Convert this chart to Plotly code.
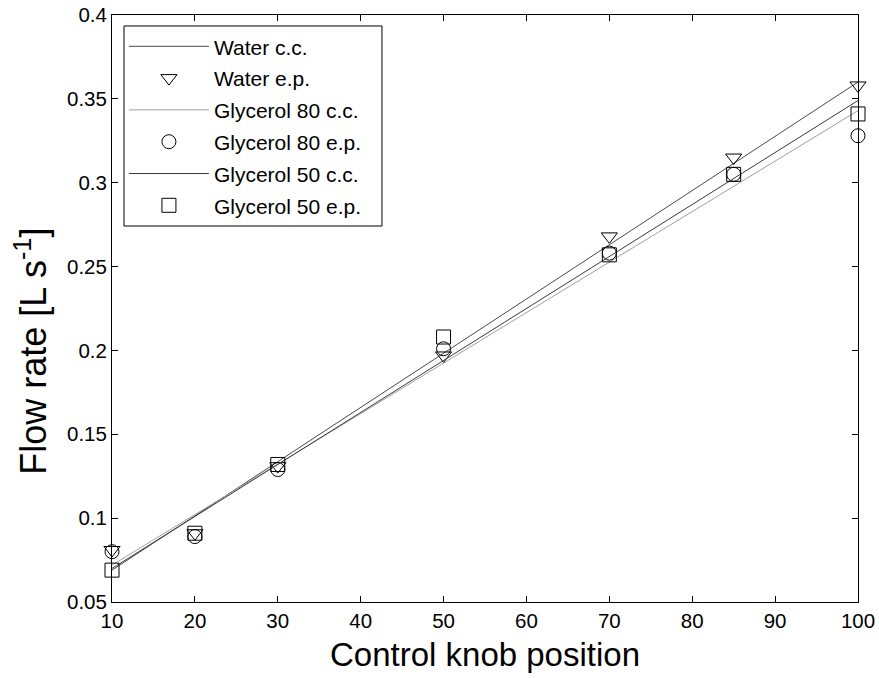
import plotly.graph_objects as go

knob = [10, 20, 30, 50, 70, 85, 100]
water_ep = [0.081, 0.091, 0.131, 0.197, 0.268, 0.315, 0.358]
gly80_ep = [0.080, 0.089, 0.129, 0.201, 0.258, 0.305, 0.328]
gly50_ep = [0.069, 0.091, 0.132, 0.208, 0.257, 0.305, 0.341]

cc_x = [10, 100]
water_cc = [0.069, 0.360]
gly80_cc = [0.072, 0.343]
gly50_cc = [0.070, 0.349]

yticks = [0.05, 0.1, 0.15, 0.2, 0.25, 0.3, 0.35, 0.4]
ytick_text = ["0.05", "0.1", "0.15", "0.2", "0.25", "0.3", "0.35", "0.4"]
xticks = [10, 20, 30, 40, 50, 60, 70, 80, 90, 100]

font = "Liberation Sans, Arial, sans-serif"

fig = go.Figure()
fig.add_trace(go.Scatter(x=cc_x, y=water_cc, mode="lines", name="Water c.c.", legendgroup="a",
                         line=dict(color="#4a4a4a", width=1), cliponaxis=False))
fig.add_trace(go.Scatter(x=knob, y=water_ep, mode="markers", name="Water e.p.", legendgroup="b",
                         marker=dict(symbol="triangle-down-open", size=14, color="black",
                                     line=dict(width=1, color="black")), cliponaxis=False))
fig.add_trace(go.Scatter(x=cc_x, y=gly80_cc, mode="lines", name="Glycerol 80 c.c.", legendgroup="c",
                         line=dict(color="#a0a0a0", width=1), cliponaxis=False))
fig.add_trace(go.Scatter(x=knob, y=gly80_ep, mode="markers", name="Glycerol 80 e.p.", legendgroup="d",
                         marker=dict(symbol="circle-open", size=14, color="black",
                                     line=dict(width=1, color="black")), cliponaxis=False))
fig.add_trace(go.Scatter(x=cc_x, y=gly50_cc, mode="lines", name="Glycerol 50 c.c.", legendgroup="e",
                         line=dict(color="#3a3a3a", width=1), cliponaxis=False))
fig.add_trace(go.Scatter(x=knob, y=gly50_ep, mode="markers", name="Glycerol 50 e.p.", legendgroup="f",
                         marker=dict(symbol="square-open", size=14, color="black",
                                     line=dict(width=1, color="black")), cliponaxis=False))

axis_common = dict(showgrid=False, zeroline=False, showline=True, linecolor="black",
                   linewidth=1, mirror="ticks", ticks="inside", ticklen=6,
                   tickcolor="black", tickwidth=1, automargin=False,
                   tickfont=dict(family=font, size=20.5, color="black"))

fig.update_layout(
    template="none",
    width=879, height=678,
    margin=dict(l=112, r=21, t=15, b=76),
    paper_bgcolor="white", plot_bgcolor="white",
    font=dict(family=font, color="black"),
    showlegend=True,
    legend=dict(x=0.016, y=0.981, xanchor="left", yanchor="top",
                bgcolor="rgba(0,0,0,0)", borderwidth=0,
                font=dict(family=font, size=21, color="black"),
                itemwidth=80, traceorder="grouped", tracegroupgap=1.5),
    shapes=[dict(type="rect", xref="paper", yref="paper",
                 x0=0.0161, x1=0.3619, y0=0.6405, y1=0.9813,
                 line=dict(color="black", width=1), fillcolor="white", layer="below")],
    annotations=[dict(text="Flow rate [L s<sup>-1</sup>]", textangle=-90,
                      xref="paper", yref="paper", x=-0.1086, y=0.428,
                      xanchor="center", yanchor="middle", showarrow=False,
                      font=dict(family=font, size=36, color="black"))],
    xaxis=dict(range=[10, 100], tickvals=xticks,
               title=dict(text="Control knob position", font=dict(family=font, size=33), standoff=12),
               **axis_common),
    yaxis=dict(range=[0.05, 0.4], tickvals=yticks, ticktext=ytick_text, **axis_common),
)

fig.write_html("out.html", config={"displayModeBar": False},
               post_script="document.body.style.margin='0';document.body.style.overflow='hidden';")
